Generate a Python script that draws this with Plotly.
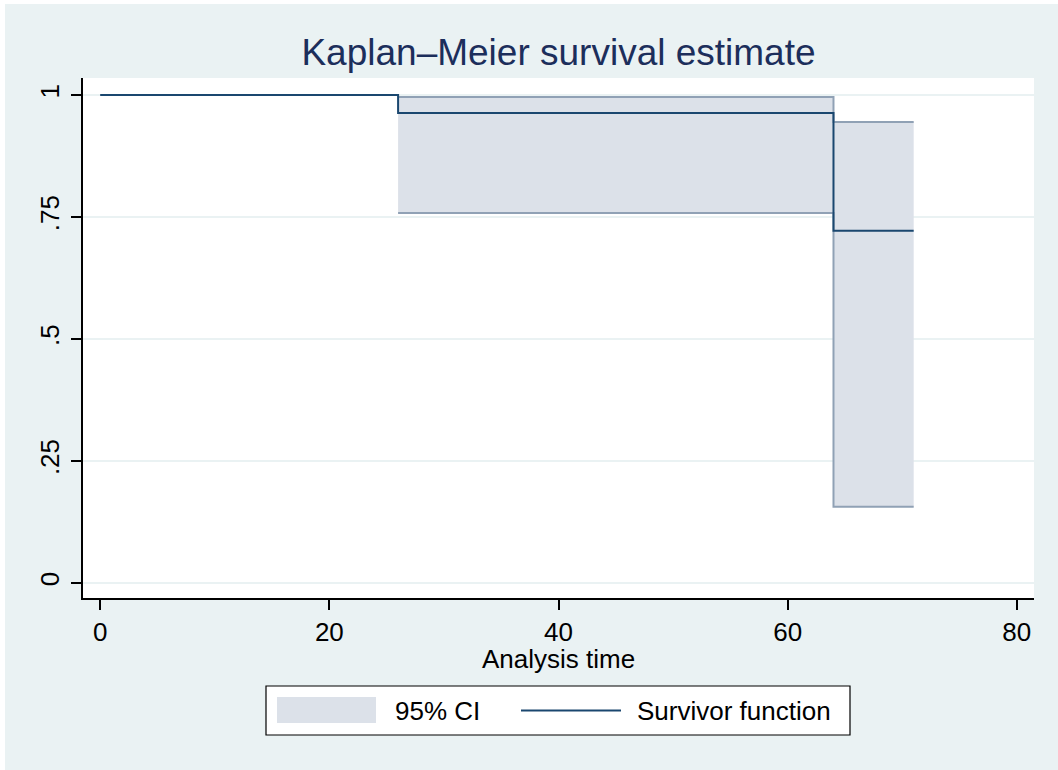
import plotly.graph_objects as go

# ---- data ----
surv_time = [0, 26, 64, 71]
surv_value = [1.0, 0.963, 0.722, 0.722]

ci_time = [26, 64, 71]
ci_upper = [0.996, 0.945, 0.945]
ci_lower = [0.758, 0.156, 0.156]

x_ticks = [0, 20, 40, 60, 80]
y_ticks = [0, 0.25, 0.5, 0.75, 1]
y_ticktext = ["0", ".25", ".5", ".75", "1"]

title_text = "Kaplan\u2013Meier survival estimate"
x_title = "Analysis time"
legend_labels = ["95% CI", "Survivor function"]

# ---- style ----
W, H = 1058, 770
L, R, T, B = 83, 24, 78, 172
PW, PH = W - L - R, H - T - B
FONT = "Liberation Sans, Arial, sans-serif"
BG = "#EAF2F3"
NAVY = "#1A476F"
CI_FILL = "#DCE1E9"
CI_EDGE = "#90A1B5"
FS = 26


def px(x):
    return (x - L) / PW


def py(y):
    return (H - B - y) / PH


fig = go.Figure()

fig.add_trace(go.Scatter(
    x=ci_time, y=ci_upper, mode="lines", line=dict(shape="hv", color=CI_EDGE, width=2),
    showlegend=False, hoverinfo="skip"))
fig.add_trace(go.Scatter(
    x=ci_time, y=ci_lower, mode="lines", line=dict(shape="hv", color=CI_EDGE, width=2),
    fill="tonexty", fillcolor=CI_FILL, name=legend_labels[0], showlegend=False))
fig.add_trace(go.Scatter(
    x=surv_time, y=surv_value, mode="lines", line=dict(shape="hv", color=NAVY, width=2),
    name=legend_labels[1], showlegend=False))

shapes = [
    # outer background
    dict(type="rect", xref="paper", yref="paper", x0=px(5), x1=px(W + 5), y0=py(H + 5), y1=py(4),
         fillcolor=BG, line=dict(width=0), layer="below"),
    # plot area
    dict(type="rect", xref="paper", yref="paper", x0=0, x1=1, y0=0, y1=1,
         fillcolor="white", line=dict(width=0), layer="below"),
    # legend box
    dict(type="rect", xref="paper", yref="paper", x0=px(266), x1=px(850), y0=py(735), y1=py(686),
         fillcolor="white", line=dict(color="black", width=1.2), layer="above"),
    # legend CI swatch
    dict(type="rect", xref="paper", yref="paper", x0=px(277), x1=px(376), y0=py(723), y1=py(697),
         fillcolor=CI_FILL, line=dict(width=0), layer="above"),
    # legend line swatch
    dict(type="line", xref="paper", yref="paper", x0=px(521), x1=px(621), y0=py(710.5), y1=py(710.5),
         line=dict(color=NAVY, width=2), layer="above"),
]

annotations = [
    dict(text=legend_labels[0], xref="paper", yref="paper", x=px(393), y=py(711),
         xanchor="left", yanchor="middle", showarrow=False,
         font=dict(family=FONT, size=FS, color="black")),
    dict(text=legend_labels[1], xref="paper", yref="paper", x=px(635), y=py(711),
         xanchor="left", yanchor="middle", showarrow=False,
         font=dict(family=FONT, size=FS, color="black")),
    # x axis title
    dict(text=x_title, xref="paper", yref="paper", x=0.5, y=py(659),
         xanchor="center", yanchor="middle", showarrow=False,
         font=dict(family=FONT, size=FS, color="black")),
]

fig.update_layout(
    width=W, height=H,
    margin=dict(l=L, r=R, t=T, b=B, autoexpand=False),
    paper_bgcolor="white",
    plot_bgcolor="rgba(0,0,0,0)",
    font=dict(family=FONT, color="black"),
    title=dict(text=title_text, x=px(558.5), xref="paper", xanchor="center",
               y=1 - 52 / H, yref="container", yanchor="middle",
               font=dict(family=FONT, size=37, color="#1C2E5B")),
    showlegend=False,
    shapes=shapes,
    annotations=annotations,
    xaxis=dict(range=[-1.5, 81.5], tickvals=x_ticks, ticks="outside", ticklen=10, tickwidth=1.5,
               tickcolor="black", showline=True, linecolor="black", linewidth=1.5,
               showgrid=False, zeroline=False, tickfont=dict(family=FONT, size=FS, color="black"),
               ticklabelstandoff=0),
    yaxis=dict(range=[-0.031, 1.035], tickvals=y_ticks, ticktext=y_ticktext, tickangle=-90,
               ticks="outside", ticklen=10, tickwidth=1.5, tickcolor="black",
               showline=True, linecolor="black", linewidth=1.5,
               showgrid=True, gridcolor=BG, gridwidth=1.5, zeroline=False,
               ticklabelstandoff=2,
               tickfont=dict(family=FONT, size=FS, color="black")),
)

fig.write_html("out.html", config={"displayModeBar": False},
               post_script="document.body.style.margin='0';")
